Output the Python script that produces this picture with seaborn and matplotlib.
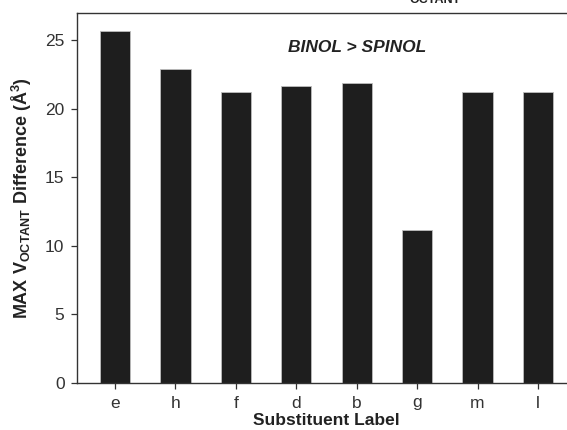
import matplotlib
matplotlib.use("Agg")
import matplotlib.pyplot as plt
import seaborn as sns
import pandas as pd

# Data
labels = ["e", "h", "f", "d", "b", "g", "m", "l"]
max_diff = [25.7, 22.9, 21.25, 21.65, 21.9, 11.2, 21.25, 21.2]
y_ticks = [0, 5, 10, 15, 20, 25]

df = pd.DataFrame({"label": labels, "diff": max_diff})

sns.set_theme(style="ticks")
plt.rcParams["font.family"] = ["Liberation Sans", "DejaVu Sans"]
plt.rcParams["mathtext.fontset"] = "custom"
plt.rcParams["mathtext.rm"] = "Liberation Sans:bold"
plt.rcParams["mathtext.bf"] = "Liberation Sans:bold"
plt.rcParams["mathtext.it"] = "Liberation Sans:bold:italic"

fig = plt.figure(figsize=(5.67, 4.3), dpi=100)
ax = fig.add_axes([77 / 567, 1 - 383 / 430, (576 - 77) / 567, (383 - 13) / 430])

sns.barplot(data=df, x="label", y="diff", ax=ax, color="#1e1e1e",
            saturation=1, width=0.5, edgecolor="#bdbdbd", linewidth=0.6)

ax.set_xlim(-0.63, 7.63)
ax.set_ylim(0, 27)
ax.set_yticks(y_ticks)

for side in ["left", "bottom", "top", "right"]:
    ax.spines[side].set_color("#333333")
    ax.spines[side].set_linewidth(1.0)

ax.tick_params(axis="both", direction="out", length=4, width=0.9,
               color="#333333", labelsize=12.5, labelcolor="#333333", pad=5)

ax.set_xlabel("Substituent Label", fontsize=12.5, fontweight="bold",
              color="#222222", labelpad=2)
ax.set_ylabel(r"MAX V$_{\rm OCTANT}$ Difference (Å$^{\rm 3}$)", fontsize=13,
              fontweight="bold", color="#222222", labelpad=8)

ax.text(4.0, 24.5, "BINOL > SPINOL", ha="center", va="center",
        fontsize=12.5, fontweight="bold", fontstyle="italic", color="#222222")

# cut-off fragment of text above the panel
fig.text(435 / 567, 1 - 3 / 430, "OCTANT", ha="center", va="baseline",
         fontsize=9, fontweight="bold", color="#222222")

fig.savefig("out.png", dpi=100)
